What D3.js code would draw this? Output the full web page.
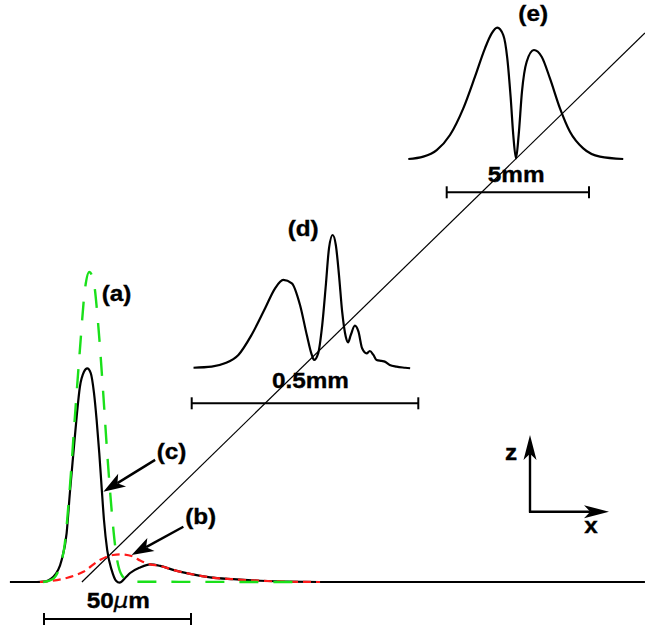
<!DOCTYPE html>
<html><head><meta charset="utf-8">
<script src="https://cdn.jsdelivr.net/npm/d3@7"></script>
<style>html,body{margin:0;padding:0;background:#fff;}svg{display:block;}</style>
</head><body>
<svg id="c" width="645" height="629"></svg>
<script>
// ---------- DATA ----------
// Main pulse: x in µm, amplitude relative to green peak
const curveA = [[-0.3,0],[3.0,0.01],[6.6,0.094],[8.8,0.306],[10.5,0.532],[12.2,0.748],[13.9,0.942],[15.4,1.0],[16.8,0.974],[18.5,0.823],[20.0,0.629],[21.5,0.416],[23.0,0.232],[24.5,0.094],[26.4,0.023],[29.3,0.001],[85,0]];
const curveB = [[-1.4,0],[2.0,0.003],[7.7,0.013],[13.4,0.033],[19.0,0.071],[23.5,0.087],[26.5,0.089],[30.3,0.082],[32.7,0.069],[36.1,0.057],[39.5,0.052],[43.9,0.039],[49.7,0.026],[56.5,0.015],[64.3,0.009],[73.5,0.004],[82.7,0.001],[93.9,0]];
const curveC = [[-11.6,0],[-2.4,0],[-0.2,0.001],[3.2,0.017],[6.0,0.071],[7.7,0.158],[8.8,0.287],[10.0,0.416],[11.1,0.532],[12.2,0.629],[13.6,0.678],[14.7,0.689],[15.9,0.674],[17.0,0.61],[17.9,0.523],[18.8,0.416],[19.6,0.306],[20.4,0.2],[21.5,0.103],[23.0,0.039],[24.5,0.004],[25.7,-0.002],[27.6,0.013],[29.3,0.029],[32.7,0.047],[36.1,0.057],[39.5,0.052],[43.9,0.039],[49.7,0.026],[56.5,0.015],[64.3,0.009],[73.5,0.004],[82.7,0.001],[93.9,0],[204.4,0]];
const propagationAxis = [[12.9,0],[204.4,1.771]];
// Inset (d): x in mm, normalised amplitude
const curveD = [[0.004,0.002],[0.044,0.010],[0.073,0.035],[0.103,0.098],[0.132,0.248],[0.162,0.449],[0.184,0.599],[0.202,0.662],[0.221,0.637],[0.239,0.474],[0.254,0.248],[0.265,0.098],[0.270,0.060],[0.279,0.110],[0.288,0.323],[0.296,0.624],[0.303,0.902],[0.311,1.0],[0.318,0.925],[0.325,0.699],[0.332,0.423],[0.340,0.235],[0.345,0.193],[0.351,0.248],[0.360,0.318],[0.368,0.273],[0.376,0.148],[0.386,0.110],[0.393,0.128],[0.401,0.098],[0.408,0.060],[0.419,0.053],[0.426,0.048],[0.437,0.023],[0.452,0.010],[0.471,0.002],[0.482,-0.002]];
// Inset (e): x in mm, normalised amplitude
const curveE = [[-1.349,0],[-0.822,0.018],[-0.351,0.068],[0.116,0.183],[0.583,0.386],[0.994,0.627],[1.345,0.843],[1.581,0.957],[1.777,1.0],[1.988,0.944],[2.129,0.767],[2.248,0.467],[2.339,0.183],[2.434,0.005],[2.529,0.183],[2.645,0.513],[2.810,0.741],[3.066,0.830],[3.337,0.779],[3.628,0.614],[3.980,0.386],[4.331,0.208],[4.798,0.081],[5.385,0.018],[6.203,0]];
// Scale bars and labels
const scaleBarMain = [0, 50];      // µm
const scaleBarD = [0, 0.5];        // mm
const scaleBarE = [0, 5];          // mm
const labelsMain = [{t:"(a)",x:24.7,y:0.906},{t:"(c)",x:43.4,y:0.398},{t:"(b)",x:53.3,y:0.187}];
const arrowsMain = [{from:[37.8,0.394],to:[20.2,0.291]},{from:[47.4,0.178],to:[29.8,0.087]}];

// ---------- DRAW ----------
const svg = d3.select("#c");
svg.append("rect").attr("width",645).attr("height",629).attr("fill","#fff");
const FONT = "'Liberation Sans', Arial, Helvetica, sans-serif";
const STRETCH = 1.08;

function stretch(sel){
  sel.each(function(){ const w=this.getComputedTextLength(); d3.select(this).attr("textLength", w*STRETCH).attr("lengthAdjust","spacingAndGlyphs"); });
}
function label(x,y,t,size){
  const s = svg.append("text").attr("x",x).attr("y",y).attr("text-anchor","middle")
    .attr("font-family",FONT).attr("font-weight","bold").attr("font-size",size||22.5)
    .attr("fill","#000").attr("stroke","#000").attr("stroke-width",0.35).text(t);
  stretch(s); return s;
}

// Scales
const xMain = d3.scaleLinear().domain([0,50]).range([44,191]);
const yMain = d3.scaleLinear().domain([0,1]).range([582,272]);
const xD = d3.scaleLinear().domain([0,0.5]).range([191.7,418.3]);
const yD = d3.scaleLinear().domain([0,1]).range([368,235]);
const xE = d3.scaleLinear().domain([0,5]).range([446.7,589]);
const yE = d3.scaleLinear().domain([0,1]).range([159,27.7]);

function lineGen(xs,ys,curve){ return d3.line().x(d=>xs(d[0])).y(d=>ys(d[1])).curve(curve||d3.curveMonotoneX); }

// propagation axis (thin diagonal)
svg.append("path").attr("d", lineGen(xMain,yMain,d3.curveLinear)(propagationAxis))
  .attr("fill","none").attr("stroke","#000").attr("stroke-width",1.2);

// main curves
svg.append("path").attr("d", lineGen(xMain,yMain)(curveC)).attr("fill","none").attr("stroke","#000").attr("stroke-width",2.2);
svg.append("path").attr("d", lineGen(xMain,yMain)(curveB)).attr("fill","none").attr("stroke","#ff1a1a").attr("stroke-width",2.2).attr("stroke-dasharray","8,5");
svg.append("path").attr("d", lineGen(xMain,yMain)(curveA)).attr("fill","none").attr("stroke","#1ae01a").attr("stroke-width",2.4).attr("stroke-dasharray","19,15");

// insets
svg.append("path").attr("d", lineGen(xD,yD)(curveD)).attr("fill","none").attr("stroke","#000").attr("stroke-width",2.2);
svg.append("path").attr("d", lineGen(xE,yE)(curveE)).attr("fill","none").attr("stroke","#000").attr("stroke-width",2.2);

// scale bars
function scaleBar(xs, ext, y){
  const g = svg.append("g").attr("stroke","#000").attr("stroke-width",2);
  g.append("line").attr("x1",xs(ext[0])).attr("x2",xs(ext[1])).attr("y1",y).attr("y2",y);
  ext.forEach(v=>g.append("line").attr("x1",xs(v)).attr("x2",xs(v)).attr("y1",y-6).attr("y2",y+6));
}
scaleBar(xMain, scaleBarMain, 619);
scaleBar(xD, scaleBarD, 403.3);
scaleBar(xE, scaleBarE, 192.3);

// scale-bar labels
(function(){
  const t = svg.append("text").attr("x",xMain(25.3)).attr("y",608.3).attr("text-anchor","middle")
    .attr("font-family",FONT).attr("font-weight","bold").attr("font-size",22.5)
    .attr("stroke","#000").attr("stroke-width",0.35);
  t.append("tspan").text(scaleBarMain[1]);
  t.append("tspan").attr("font-style","italic").attr("font-family","'DejaVu Sans', sans-serif").attr("font-weight","normal").attr("font-size",21).text("μ");
  t.append("tspan").text("m");
  stretch(t);
})();
label(xD(0.262), 388.3, scaleBarD[1]+"mm");
label(xE(2.44), 182.3, scaleBarE[1]+"mm");
label(xD(0.246), 235.5, "(d)");
label(xE(3.04), 20.5, "(e)");
labelsMain.forEach(l=>label(xMain(l.x), yMain(l.y), l.t));

// arrows
function arrow(x1,y1,x2,y2,len,hw){
  const dx=x2-x1, dy=y2-y1, L=Math.hypot(dx,dy), ux=dx/L, uy=dy/L, px=-uy, py=ux;
  const bx=x2-ux*len, by=y2-uy*len, nx=x2-ux*len*0.75, ny=y2-uy*len*0.75;
  svg.append("line").attr("x1",x1).attr("y1",y1).attr("x2",nx).attr("y2",ny).attr("stroke","#000").attr("stroke-width",2.4);
  svg.append("path").attr("d",`M${x2},${y2}L${bx+px*hw},${by+py*hw}L${nx},${ny}L${bx-px*hw},${by-py*hw}Z`).attr("fill","#000");
}
arrowsMain.forEach(a=>arrow(xMain(a.from[0]),yMain(a.from[1]),xMain(a.to[0]),yMain(a.to[1]),22,7.5));

// coordinate indicator
arrow(530,512.5,530,435,25,6.5);
arrow(529,511.7,609,511.7,25,6.5);
label(511,460,"z");
label(591,533,"x");
</script>
</body></html>
